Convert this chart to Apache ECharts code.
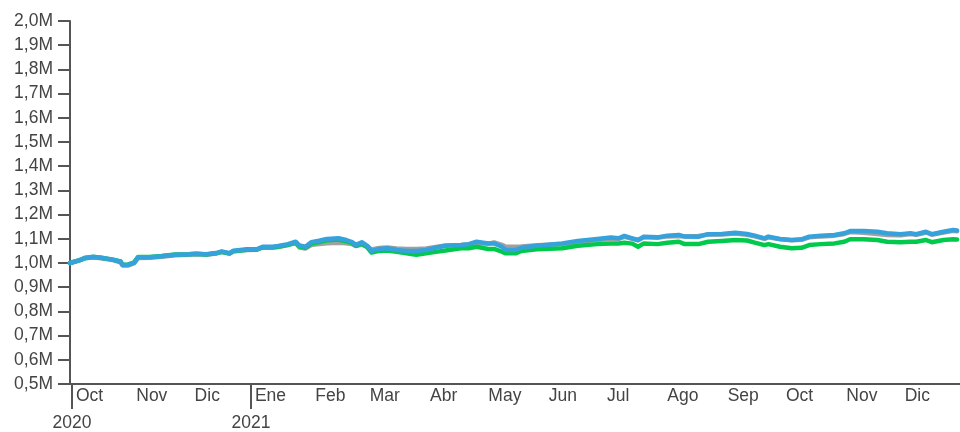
<!DOCTYPE html>
<html>
<head>
<meta charset="utf-8">
<script src="https://cdn.jsdelivr.net/npm/echarts@6/dist/echarts.min.js"></script>
<style>
html,body{margin:0;padding:0;background:#fff;}
#chart{width:960px;height:432px;}
</style>
</head>
<body>
<div id="chart"></div>
<script>
const dates = [
"2020-09-30","2020-10-05","2020-10-08","2020-10-12","2020-10-16","2020-10-22","2020-10-26","2020-10-27","2020-10-30",
"2020-11-02","2020-11-04","2020-11-10","2020-11-16","2020-11-23","2020-11-30","2020-12-04","2020-12-09","2020-12-14",
"2020-12-17","2020-12-21","2020-12-23","2020-12-30","2021-01-04","2021-01-07","2021-01-12",
"2021-01-15","2021-01-20","2021-01-24","2021-01-26","2021-01-29","2021-02-01","2021-02-05","2021-02-09","2021-02-15",
"2021-02-19","2021-02-22","2021-02-24","2021-02-27","2021-03-02","2021-03-04","2021-03-08","2021-03-12","2021-03-17",
"2021-03-22","2021-03-27","2021-04-01","2021-04-06","2021-04-11",
"2021-04-19","2021-04-23","2021-04-27","2021-05-03","2021-05-06","2021-05-10","2021-05-12","2021-05-17","2021-05-20",
"2021-05-28","2021-06-10","2021-06-18","2021-06-28","2021-07-05","2021-07-09","2021-07-12","2021-07-16","2021-07-19",
"2021-07-22","2021-07-29","2021-08-03","2021-08-09","2021-08-12","2021-08-19","2021-08-24","2021-08-31","2021-09-07",
"2021-09-13","2021-09-17","2021-09-22","2021-09-24","2021-09-30","2021-10-06","2021-10-11","2021-10-15","2021-10-21",
"2021-10-28","2021-11-02","2021-11-05","2021-11-12","2021-11-19","2021-11-24","2021-12-01","2021-12-06","2021-12-09",
"2021-12-14","2021-12-17","2021-12-23","2021-12-28","2021-12-30"
];
// values in thousands
const blueK = [
1000,1012,1022,1026,1022,1014,1005,992,992,
1001,1024,1024,1028,1034,1036,1038,1036,1041,
1048,1041,1051,1057,1057,1067,1067,
1070,1078,1088,1072,1067,1086,1092,1099,1102,
1095,1086,1075,1086,1070,1050,1058,1061,1054,
1050,1050,1054,1063,1071,
1074,1078,1088,1081,1081,1067,1054,1054,1063,
1071,1081,1091,1099,1105,1102,1112,1102,1095,
1109,1106,1113,1116,1109,1108,1119,1120,1125,
1120,1113,1102,1109,1099,1095,1098,1109,1113,
1116,1123,1132,1132,1129,1123,1119,1123,1119,
1129,1119,1129,1136,1134
];
const grayK = [
1000,1011,1020,1024,1020,1012,1003,990,990,
999,1021,1022,1026,1032,1034,1036,1034,1039,
1045,1039,1048,1054,1055,1064,1064,
1066,1074,1082,1064,1060,1074,1078,1082,1084,
1082,1078,1070,1076,1068,1056,1062,1064,1060,
1058,1058,1060,1066,1072,
1074,1077,1082,1080,1085,1075,1067,1067,1068,
1073,1078,1088,1095,1100,1100,1108,1100,1094,
1106,1104,1110,1112,1110,1112,1118,1118,1122,
1117,1110,1100,1106,1098,1094,1096,1106,1110,
1113,1120,1128,1125,1120,1116,1115,1120,1117,
1126,1117,1126,1133,1131
];
const greenK = [
1000,1012,1021,1025,1022,1014,1006,993,994,
1003,1025,1025,1029,1035,1036,1038,1035,1040,
1046,1039,1049,1055,1055,1065,1064,
1067,1075,1084,1068,1063,1080,1087,1094,1097,
1090,1082,1071,1080,1063,1043,1050,1052,1046,
1040,1034,1040,1046,1052,
1061,1061,1067,1058,1058,1047,1040,1040,1050,
1057,1061,1071,1078,1081,1081,1084,1080,1067,
1081,1078,1084,1088,1078,1078,1088,1091,1095,
1093,1084,1074,1078,1067,1061,1063,1074,1078,
1081,1088,1098,1098,1095,1088,1086,1088,1088,
1095,1086,1095,1098,1097
];
const monthTicks = ["2020-10-01","2020-11-01","2020-12-01","2021-01-01","2021-02-01","2021-03-01","2021-04-01",
"2021-05-01","2021-06-01","2021-07-01","2021-08-01","2021-09-01","2021-10-01","2021-11-01","2021-12-01"];
const monthNames = ["Ene","Feb","Mar","Abr","May","Jun","Jul","Ago","Sep","Oct","Nov","Dic"];
const yearTicks = ["2020-10-01","2021-01-01"];
const yearLabels = ["2020","2021"];

function ts(s){ const p=s.split("-").map(Number); return Date.UTC(p[0],p[1]-1,p[2]); }
const xMin = ts("2020-09-30");
const xMax = ts("2021-12-31") + 12*3600*1000;
const monthTs = monthTicks.map(ts);
const yearTs = yearTicks.map(ts);

const axisColor = "#555";
const textColor = "#444";
const FONT = "Liberation Sans, Arial, sans-serif";
const FS = 17.5;

function mk(valsK){ return dates.map((d,i)=>[ts(d), valsK[i]*1000]); }
function nearestIdx(arr, v){ let b=0; for(let i=1;i<arr.length;i++){ if(Math.abs(arr[i]-v)<Math.abs(arr[b]-v)) b=i; } return b; }

const chart = echarts.init(document.getElementById("chart"));
chart.setOption({
  animation:false,
  backgroundColor:"#fff",
  grid:{left:70,right:0,top:21,bottom:48,containLabel:false},
  xAxis:[{
    type:"value", min:xMin, max:xMax, position:"bottom", scale:true,
    axisLine:{show:true,lineStyle:{color:axisColor,width:2}},
    axisTick:{show:true,customValues:yearTs,length:25,lineStyle:{color:axisColor,width:2}},
    axisLabel:{customValues:monthTs,align:"left",padding:[0,0,0,4],margin:3,
      showMinLabel:true,showMaxLabel:true,
      fontSize:FS,fontFamily:FONT,color:textColor,
      formatter:function(v){ return monthNames[new Date(monthTs[nearestIdx(monthTs,v)]).getUTCMonth()]; }},
    splitLine:{show:false}
  },{
    type:"value", min:xMin, max:xMax, position:"bottom", scale:true,
    axisLine:{show:false}, axisTick:{show:false}, splitLine:{show:false},
    axisLabel:{customValues:yearTs,align:"center",margin:30,
      fontSize:FS,fontFamily:FONT,color:textColor,
      formatter:function(v){ return yearLabels[nearestIdx(yearTs,v)]; }}
  }],
  yAxis:{
    type:"value", min:500000, max:2000000, interval:100000,
    axisLine:{show:true,lineStyle:{color:axisColor,width:2}},
    axisTick:{show:true,length:12,lineStyle:{color:axisColor,width:2}},
    axisLabel:{margin:17,fontSize:FS,fontFamily:FONT,color:textColor,
      formatter:function(v){ return (v/1e6).toFixed(1).replace(".",",")+"M"; }},
    splitLine:{show:false}
  },
  series:[
    {name:"Gris",type:"line",data:mk(grayK),showSymbol:false,symbol:"none",
      lineStyle:{color:"#a0a0a0",width:4.5,join:"round",cap:"round"},itemStyle:{color:"#a0a0a0"}},
    {name:"Verde",type:"line",data:mk(greenK),showSymbol:false,symbol:"none",
      lineStyle:{color:"#00c94c",width:4.5,join:"round",cap:"round"},itemStyle:{color:"#00c94c"}},
    {name:"Azul",type:"line",data:mk(blueK),showSymbol:false,symbol:"none",
      lineStyle:{color:"#36a2dc",width:4.5,join:"round",cap:"round"},itemStyle:{color:"#36a2dc"}}
  ]
});
</script>
</body>
</html>
